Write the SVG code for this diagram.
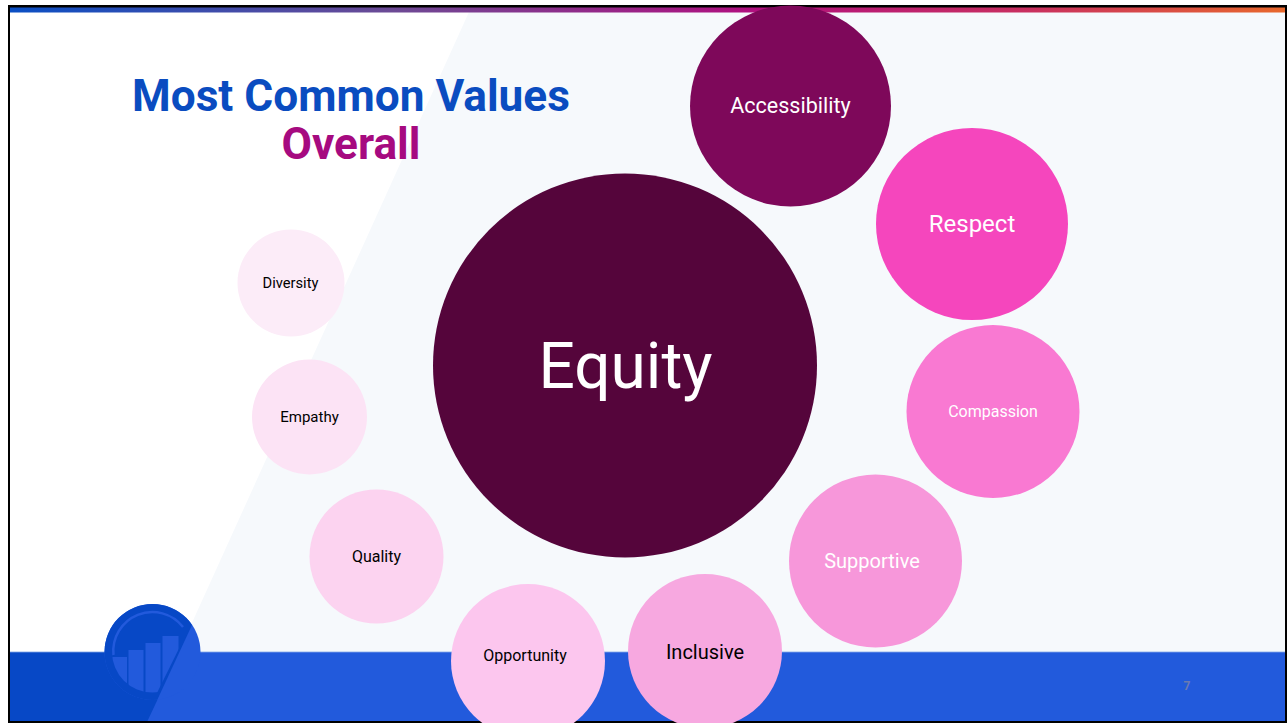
<svg xmlns="http://www.w3.org/2000/svg" width="1288" height="723" viewBox="0 0 1288 723">
<defs>
<linearGradient id="bar" x1="0" x2="1" y1="0" y2="0">
<stop offset="0" stop-color="#0a4fc4"/><stop offset="0.3" stop-color="#6c4a95"/><stop offset="0.58" stop-color="#b0107f"/><stop offset="0.8" stop-color="#c9305f"/><stop offset="1" stop-color="#e8682c"/>
</linearGradient>
<clipPath id="logoLeft"><circle cx="152.500" cy="652" r="48"/></clipPath>
<clipPath id="logoInner"><circle cx="152.500" cy="652" r="40.500"/></clipPath>
<clipPath id="logoBand"><path d="M100 600H203L155 697H100Z"/></clipPath>
</defs>
<style>
text{font-family:Roboto,"Liberation Sans",sans-serif;text-anchor:middle}
.w{fill:#fff}.k{fill:#000}
</style>
<rect width="1288" height="723" fill="#fff"/>
<path d="M469 12H1286V653H180L147 722Z" fill="#f6f9fc"/>
<rect x="9" y="7" width="1277" height="5.500" fill="url(#bar)"/>
<g id="footer">
<rect x="9" y="652" width="1277" height="70" fill="#225adc"/>
<path d="M9 652H180L147 722H9Z" fill="#0748c6"/>
<rect x="9" y="651" width="1277" height="1.500" fill="#a9c2ee" opacity="0.6"/>
</g>
<g id="logo">
<circle cx="152.500" cy="652" r="48" fill="#225adc"/>
<path d="M147 722L192 625L170 590H100V722Z" fill="#0748c6" clip-path="url(#logoLeft)"/>
<g clip-path="url(#logoBand)"><g clip-path="url(#logoInner)" fill="#225adc">
<rect x="111" y="657" width="16" height="40"/>
<rect x="128.500" y="650" width="15" height="47"/>
<rect x="145.500" y="643" width="15" height="54"/>
<rect x="162.500" y="636" width="16" height="60"/>
</g></g>
<path d="M113.500 655A39 39 0 0 1 183 627" fill="none" stroke="#225adc" stroke-width="2.500"/>
</g>
<text id="page-number" x="1187" y="690" font-size="12" font-weight="700" style="fill:#6b7ab0">7</text>
<g id="frame" fill="#000">
<rect x="8" y="5" width="1279" height="2.500"/>
<rect x="8" y="5" width="2" height="718"/>
<rect x="1285" y="5" width="2" height="718"/>
<rect x="8" y="721" width="1279" height="2"/>
</g>
<g id="title" font-weight="700" font-size="44.200">
<text x="351" y="111" style="fill:#0a4cc0">Most Common Values</text>
<text x="351" y="159" style="fill:#a60a80">Overall</text>
</g>
<g id="connectors"></g>
<g id="equity"><circle cx="625" cy="365.500" r="192" fill="#55053b"/><text class="w" x="625.500" y="388" font-size="64">Equity</text></g>
<g id="accessibility"><circle cx="790.500" cy="106" r="100.500" fill="#7e085a"/><text class="w" x="790.500" y="113" font-size="21.500">Accessibility</text></g>
<g id="respect"><circle cx="972" cy="224" r="96" fill="#f546bd"/><text class="w" x="972" y="232" font-size="24">Respect</text></g>
<g id="compassion"><circle cx="993" cy="411.500" r="86.500" fill="#f979d2"/><text class="w" x="993" y="417" font-size="16">Compassion</text></g>
<g id="supportive"><circle cx="875.500" cy="561" r="86.500" fill="#f797da"/><text class="w" x="872" y="568" font-size="20">Supportive</text></g>
<g id="inclusive"><circle cx="705" cy="651" r="77" fill="#f7a8e0"/><text class="k" x="705" y="659" font-size="20">Inclusive</text></g>
<g id="opportunity"><circle cx="528" cy="661" r="77" fill="#fcc6ee"/><text class="k" x="525" y="661" font-size="16">Opportunity</text></g>
<g id="quality"><circle cx="376.500" cy="556.500" r="67" fill="#fcd3f0"/><text class="k" x="376.500" y="562" font-size="16">Quality</text></g>
<g id="empathy"><circle cx="309.500" cy="417" r="57.500" fill="#fce3f5"/><text class="k" x="309.500" y="422" font-size="15">Empathy</text></g>
<g id="diversity"><circle cx="291" cy="283" r="53.500" fill="#fcecf8"/><text class="k" x="290.500" y="288" font-size="14.700">Diversity</text></g>
</svg>
